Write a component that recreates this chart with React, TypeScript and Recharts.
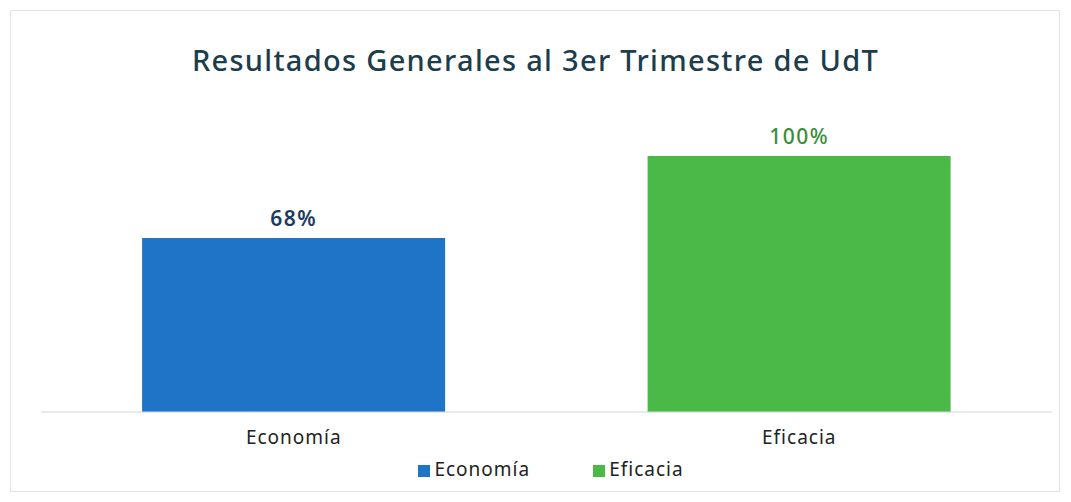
import { BarChart, Bar, XAxis, YAxis, Legend, LabelList } from 'recharts';

const categories = ['Economía', 'Eficacia'];
const economiaValues = [68, null];
const eficaciaValues = [null, 100];

const data = categories.map((name, i) => ({
  name,
  economia: economiaValues[i],
  eficacia: eficaciaValues[i],
}));

const BLUE = '#1f74c7';
const GREEN = '#4bb947';
const FONT = '"Noto Sans", sans-serif';

const pct = (v: any) => (v == null ? '' : `${v}%`);

export default function App() {
  return (
    <div style={{ position: 'absolute', left: 0, top: 0, width: 1071, height: 502, background: '#fff', fontFamily: FONT }}>
      <div
        style={{
          position: 'absolute',
          left: 10,
          top: 10,
          width: 1050,
          height: 482,
          border: '1px solid #e4e4e4',
          boxSizing: 'border-box',
        }}
      />
      <div
        style={{
          position: 'absolute',
          top: 40,
          left: 0,
          width: 1071,
          textAlign: 'center',
          fontSize: 29,
          fontWeight: 500,
          letterSpacing: 1.3,
          color: '#1b3d4c',
        }}
      >
        Resultados Generales al 3er Trimestre de UdT
      </div>
      <BarChart
        width={1071}
        height={502}
        data={data}
        margin={{ top: 156, right: 19, bottom: 16, left: 41 }}
        barCategoryGap="20%"
        style={{ position: 'absolute', left: 0, top: 0 }}
      >
        <XAxis
          dataKey="name"
          stroke="#d4d4d4"
          tickLine={false}
          tick={{ fill: '#222', fontSize: 19, fontFamily: FONT, letterSpacing: 1 }}
          tickMargin={13}
          height={44}
        />
        <YAxis hide domain={[0, 100]} />
        <Legend
          verticalAlign="bottom"
          iconType="square"
          iconSize={12}
          height={30}
          wrapperStyle={{ fontSize: 19, fontFamily: FONT, letterSpacing: 1, paddingLeft: 36 }}
          formatter={(value: any) => <span style={{ color: '#222', marginRight: 53 }}>{value}</span>}
        />
        <Bar dataKey="economia" name="Economía" stackId="a" fill={BLUE} isAnimationActive={false}>
          <LabelList dataKey="economia" position="top" offset={12} formatter={pct} fill="#1b3a5c" fontSize={21} fontWeight={600} letterSpacing={1.5} fontFamily={FONT} />
        </Bar>
        <Bar dataKey="eficacia" name="Eficacia" stackId="a" fill={GREEN} isAnimationActive={false}>
          <LabelList dataKey="eficacia" position="top" offset={12} formatter={pct} fill="#3a8f36" fontSize={21} fontWeight={500} letterSpacing={1.5} fontFamily={FONT} />
        </Bar>
      </BarChart>
    </div>
  );
}
